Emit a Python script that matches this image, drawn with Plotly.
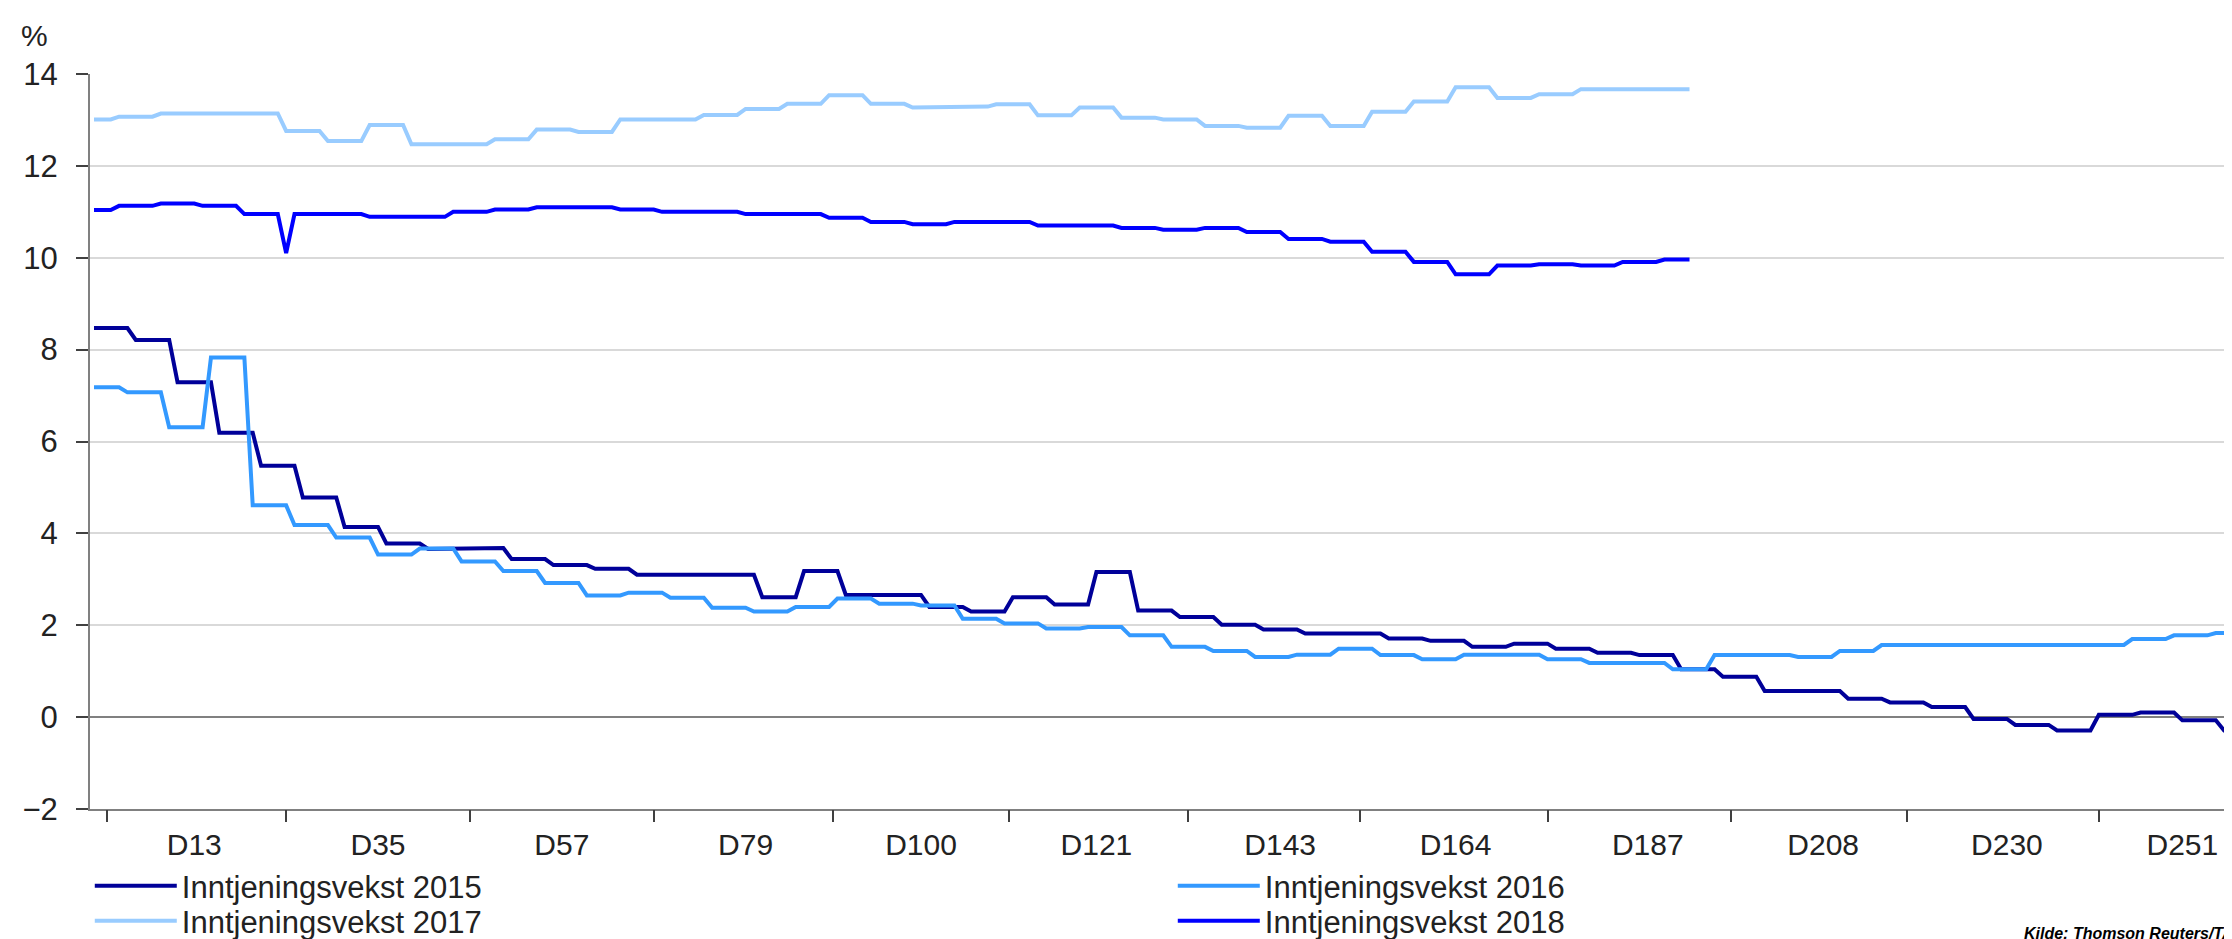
import numpy as np
import plotly.graph_objects as go

# Inntjeningsvekst (%) per handelsdag D1, D2, ...
# Hver verdi gjelder i det antall dager som står i dager_xxxx
vekst_2015 = [8.47, 8.21, 7.29, 6.19, 5.47, 4.78, 4.14, 3.78, 3.66, 3.68, 3.44, 3.31, 3.23,
              3.10, 2.61, 3.18, 2.66, 2.40, 2.30, 2.61, 2.45, 3.16, 2.32, 2.18, 2.01, 1.91,
              1.82, 1.71, 1.66, 1.53, 1.60, 1.49, 1.40, 1.35, 1.04, 0.88, 0.57, 0.40, 0.32,
              0.22, -0.04, -0.17, -0.29, 0.05, 0.10, -0.07, -0.29]
dager_2015 = [5, 5, 5, 5, 5, 5, 5, 5, 5, 5, 5, 5, 5,
              15, 5, 5, 10, 5, 5, 5, 5, 5, 5, 5, 5, 5,
              10, 5, 5, 5, 5, 5, 5, 5, 5, 5, 10, 5, 5,
              5, 5, 5, 5, 5, 5, 5, 5]

vekst_2016 = [7.18, 7.07, 6.31, 7.83, 4.61, 4.18, 3.91, 3.54, 3.67, 3.39, 3.18, 2.92, 2.65,
              2.71, 2.60, 2.38, 2.30, 2.40, 2.58, 2.47, 2.43, 2.14, 2.04, 1.93, 1.96, 1.78,
              1.53, 1.44, 1.31, 1.36, 1.49, 1.35, 1.26, 1.36, 1.26, 1.18, 1.04, 1.35, 1.31,
              1.44, 1.57, 1.70, 1.78, 1.83]
dager_2016 = [4, 5, 5, 5, 5, 5, 5, 5, 5, 5, 5, 5, 5,
              5, 5, 5, 5, 5, 5, 5, 5, 5, 5, 5, 5, 5,
              5, 5, 5, 5, 5, 5, 5, 10, 5, 10, 5, 10, 5,
              5, 30, 5, 5, 5]

vekst_2017 = [13.01, 13.07, 13.14, 12.76, 12.54, 12.89, 12.47, 12.58, 12.79, 12.74, 13.01,
              13.11, 13.24, 13.35, 13.54, 13.35, 13.27, 13.29, 13.34, 13.10, 13.27, 13.05,
              13.01, 12.87, 12.83, 13.09, 12.87, 13.18, 13.40, 13.71, 13.48, 13.56, 13.67]
dager_2017 = [3, 5, 15, 5, 5, 5, 10, 5, 5, 5, 10,
              5, 5, 5, 5, 5, 5, 5, 5, 5, 5, 5,
              5, 5, 5, 5, 5, 5, 5, 5, 5, 5, 14]

vekst_2018 = [11.04, 11.13, 11.18, 11.13, 10.95, 10.10, 10.95, 10.89, 11.00, 11.05, 11.10,
              11.05, 11.00, 10.95, 10.87, 10.78, 10.73, 10.78, 10.70, 10.65, 10.61, 10.65,
              10.56, 10.41, 10.35, 10.13, 9.91, 9.64, 9.83, 9.86, 9.83, 9.91, 9.96]
dager_2018 = [3, 5, 5, 5, 5, 1, 9, 10, 5, 5, 10,
              5, 10, 10, 5, 5, 5, 10, 10, 5, 5, 5,
              5, 5, 5, 5, 5, 5, 5, 5, 5, 5, 4]

# x-akse: etiketter midt i hver måned, tikkmerker på månedsgrensene
etikett_dager = [13, 35, 57, 79, 100, 121, 143, 164, 187, 208, 230, 251]
etiketter = ["D13", "D35", "D57", "D79", "D100", "D121", "D143", "D164", "D187", "D208", "D230", "D251"]
maaned_grenser = [2.5, 24, 46, 68, 89.5, 110.5, 132, 152.5, 175, 197, 218, 241]

# navn, verdier, dager, farge, x-akse, legende
serier = [
    ("Inntjeningsvekst 2015", vekst_2015, dager_2015, "#000099", "x", "legend"),
    ("Inntjeningsvekst 2016", vekst_2016, dager_2016, "#3399FF", "x", "legend"),
    ("Inntjeningsvekst 2017", vekst_2017, dager_2017, "#99CCFF", "x", "legend2"),
    ("Inntjeningsvekst 2018", vekst_2018, dager_2018, "#0000FF", "x2", "legend2"),
]

FONT = "Liberation Sans, Arial, sans-serif"
W, H = 2232, 939
ML, MT, MB = 82, 66, 138
PW, PH = W - ML, H - MT - MB
X_RANGE = [0.52, 257.9]


def paper_y(px):
    return (H - MB - px) / PH


fig = go.Figure()
for navn, vekst, dager, farge, xakse, leg in serier:
    y = np.repeat(vekst, dager)
    x = np.arange(1, len(y) + 1)
    fig.add_trace(go.Scatter(x=x, y=y, mode="lines", name=navn, xaxis=xakse, yaxis="y",
                             legend=leg, line=dict(color=farge, width=4)))

legend_felles = dict(orientation="h", x=-0.0001, xanchor="left", yanchor="middle",
                     entrywidth=986, entrywidthmode="pixels", itemwidth=82,
                     font=dict(size=31, color="#222222"), bgcolor="rgba(0,0,0,0)")

fig.update_layout(
    width=W, height=H,
    margin=dict(l=ML, r=0, t=MT, b=MB, autoexpand=False),
    paper_bgcolor="white", plot_bgcolor="white",
    font=dict(family=FONT, size=30, color="#222222"),
    showlegend=True,
    legend=dict(legend_felles, y=paper_y(878)),
    legend2=dict(legend_felles, y=paper_y(913)),
    xaxis=dict(range=X_RANGE, tickmode="array", tickvals=etikett_dager, ticktext=etiketter,
               ticks="", showgrid=False, zeroline=False, showline=True,
               linecolor="#808080", linewidth=2, ticklabelstandoff=8,
               tickfont=dict(size=30)),
    xaxis2=dict(overlaying="x", anchor="y", side="bottom", range=X_RANGE,
                tickmode="array", tickvals=maaned_grenser, ticks="outside",
                ticklen=12, tickwidth=2, tickcolor="#404040",
                showticklabels=False, showgrid=False, zeroline=False, showline=False),
    yaxis=dict(range=[-2, 14], tickmode="array", tickvals=list(range(-2, 15, 2)),
               showgrid=True, gridcolor="#D9D9D9", gridwidth=2,
               zeroline=True, zerolinecolor="#808080", zerolinewidth=2,
               showline=True, linecolor="#808080", linewidth=2,
               ticks="outside", ticklen=12, tickwidth=2, tickcolor="#404040",
               ticklabelstandoff=12, tickfont=dict(size=31)),
)

fig.add_annotation(text="%", xref="paper", yref="paper",
                   x=(26 - ML) / PW, y=paper_y(27),
                   xanchor="center", yanchor="middle", showarrow=False,
                   font=dict(size=30, color="#222222"))

fig.add_annotation(text="<b><i>Kilde: Thomson Reuters/TA</i></b>", xref="paper", yref="paper",
                   x=(2228 - ML) / PW, y=paper_y(925),
                   xanchor="right", yanchor="middle", showarrow=False,
                   font=dict(size=16, color="#000000"))

fig.write_html("out.html")
